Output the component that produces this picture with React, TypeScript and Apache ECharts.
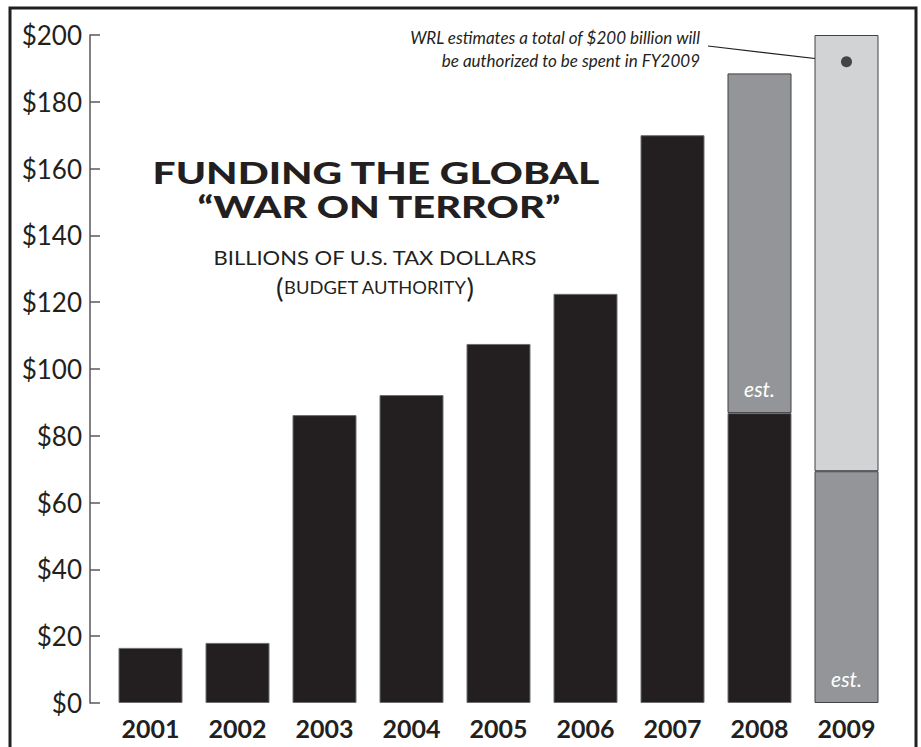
import React, { useEffect, useRef } from "react";
import * as echarts from "echarts";

const years = ["2001", "2002", "2003", "2004", "2005", "2006", "2007", "2008", "2009"];
const enacted = [16.5, 18, 86.2, 92.2, 107.5, 122.5, 170, 86.8, null];
const estimated = [null, null, null, null, null, null, null, 101.7, 69.4];
const projected = [null, null, null, null, null, null, null, null, 130.6];
const wrlPoint = [["2009", 192]];
const yTicks = { min: 0, max: 200, interval: 20 };

const FONT = "Lato, 'Open Sans', sans-serif";
const INK = "#231f20";

export default function App() {
  const ref = useRef<HTMLDivElement>(null);
  useEffect(() => {
    if (!ref.current) return;
    const chart = echarts.init(ref.current, undefined, { renderer: "svg" });
    chart.setOption({
      animation: false,
      backgroundColor: "#ffffff",
      grid: { left: 107, right: 31, top: 35, bottom: 44, containLabel: false },
      xAxis: {
        type: "category",
        data: years,
        axisLine: { show: false },
        axisTick: { show: false },
        axisLabel: {
          color: INK,
          fontFamily: FONT,
          fontWeight: "bold",
          fontSize: 25,
          margin: 12,
        },
      },
      yAxis: {
        type: "value",
        min: yTicks.min,
        max: yTicks.max,
        interval: yTicks.interval,
        offset: 17,
        splitLine: { show: false },
        axisLine: { show: true, lineStyle: { color: "#58595b", width: 1.5 } },
        axisTick: { show: true, inside: true, length: 10, lineStyle: { color: "#58595b", width: 1.5 } },
        axisLabel: {
          color: INK,
          fontFamily: FONT,
          fontSize: 26,
          margin: 8,
          formatter: (v: number) => "$" + v,
        },
      },
      series: [
        {
          name: "Enacted",
          type: "bar",
          stack: "total",
          barWidth: 64,
          data: enacted,
          itemStyle: { color: INK, borderColor: "#6d6e71", borderWidth: 1 },
        },
        {
          name: "Estimated",
          type: "bar",
          stack: "total",
          barWidth: 64,
          data: estimated,
          itemStyle: { color: "#939598", borderColor: "#414042", borderWidth: 1 },
          label: {
            show: true,
            position: "insideBottom",
            distance: 14,
            formatter: "est.",
            color: "#ffffff",
            fontFamily: FONT,
            fontStyle: "italic",
            fontSize: 21,
          },
        },
        {
          name: "Projected",
          type: "bar",
          stack: "total",
          barWidth: 64,
          data: projected,
          itemStyle: { color: "#d1d3d4", borderColor: "#414042", borderWidth: 1 },
        },
        {
          name: "WRL estimate",
          type: "scatter",
          data: wrlPoint,
          symbol: "circle",
          symbolSize: 11,
          itemStyle: { color: INK },
          z: 5,
        },
      ],
      graphic: [
        {
          type: "rect",
          shape: { x: 10, y: 8, width: 906, height: 770 },
          style: { fill: "none", stroke: INK, lineWidth: 3 },
          z: 100,
        },
        {
          type: "text",
          x: 376,
          y: 173,
          scaleX: 1.36,
          style: {
            text: "FUNDING THE GLOBAL",
            fill: INK,
            font: `900 30px ${FONT}`,
            textAlign: "center",
            textVerticalAlign: "middle",
          },
        },
        {
          type: "text",
          x: 379,
          y: 207,
          scaleX: 1.33,
          style: {
            text: "“WAR ON TERROR”",
            fill: INK,
            font: `900 30px ${FONT}`,
            textAlign: "center",
            textVerticalAlign: "middle",
          },
        },
        {
          type: "text",
          x: 375,
          y: 257,
          scaleX: 1.1,
          style: {
            text: "BILLIONS OF U.S. TAX DOLLARS",
            fill: INK,
            font: `20px ${FONT}`,
            textAlign: "center",
            textVerticalAlign: "middle",
          },
        },
        {
          type: "text",
          x: 375,
          y: 288,
          scaleX: 1.08,
          style: {
            text: "{p|(}{s|BUDGET AUTHORITY}{p|)}",
            fill: INK,
            textAlign: "center",
            textVerticalAlign: "middle",
            rich: {
              p: { fontFamily: FONT, fontSize: 26, fill: INK },
              s: { fontFamily: FONT, fontSize: 17, fill: INK },
            },
          },
        },
        {
          type: "text",
          x: 700,
          y: 37,
          style: {
            text: "WRL estimates a total of $200 billion will",
            fill: INK,
            font: `italic 17px ${FONT}`,
            textAlign: "right",
            textVerticalAlign: "middle",
          },
        },
        {
          type: "text",
          x: 700,
          y: 60,
          style: {
            text: "be authorized to be spent in FY2009",
            fill: INK,
            font: `italic 17px ${FONT}`,
            textAlign: "right",
            textVerticalAlign: "middle",
          },
        },
        {
          type: "line",
          shape: { x1: 708, y1: 46, x2: 845, y2: 62 },
          style: { stroke: INK, lineWidth: 1.2 },
        },
      ],
    });
    return () => chart.dispose();
  }, []);
  return (
    <div
      ref={ref}
      style={{ position: "fixed", left: 0, top: 0, width: 921, height: 747 }}
    />
  );
}
